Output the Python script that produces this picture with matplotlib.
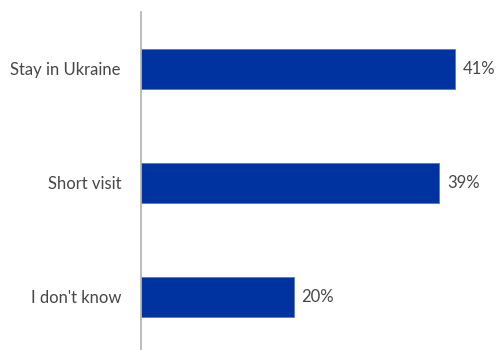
import matplotlib.pyplot as plt

categories = ["Stay in Ukraine", "Short visit", "I don't know"]
values = [41, 39, 20]

plt.rcParams['font.family'] = ['Lato', 'DejaVu Sans']

W, H = 496, 350
fig = plt.figure(figsize=(W / 100, H / 100), dpi=100)
ax = fig.add_axes([141 / W, 0, 355 / W, 338 / H])

bar_color = '#0033A0'
text_color = '#474747'

pos = list(range(len(categories)))
ax.barh(pos, values, height=0.35, color=bar_color, edgecolor='#5a78c0', linewidth=0.6)

# percentage labels just past the end of each bar
for p, v in zip(pos, values):
    ax.text(v + 1.0, p, f"{v}%", va='center', ha='left', fontsize=12, color=text_color)

ax.set_xlim(0, 46.4)
ax.set_ylim(2.465, -0.5)
ax.set_yticks(pos)
ax.set_yticklabels(categories, fontsize=12, color=text_color)
ax.tick_params(axis='y', length=0, pad=14.4)
ax.set_xticks([])

for s in ['top', 'right', 'bottom']:
    ax.spines[s].set_visible(False)
ax.spines['left'].set_color('#b0b0b0')
ax.spines['left'].set_linewidth(1.2)

fig.savefig('out.png', dpi=100)
